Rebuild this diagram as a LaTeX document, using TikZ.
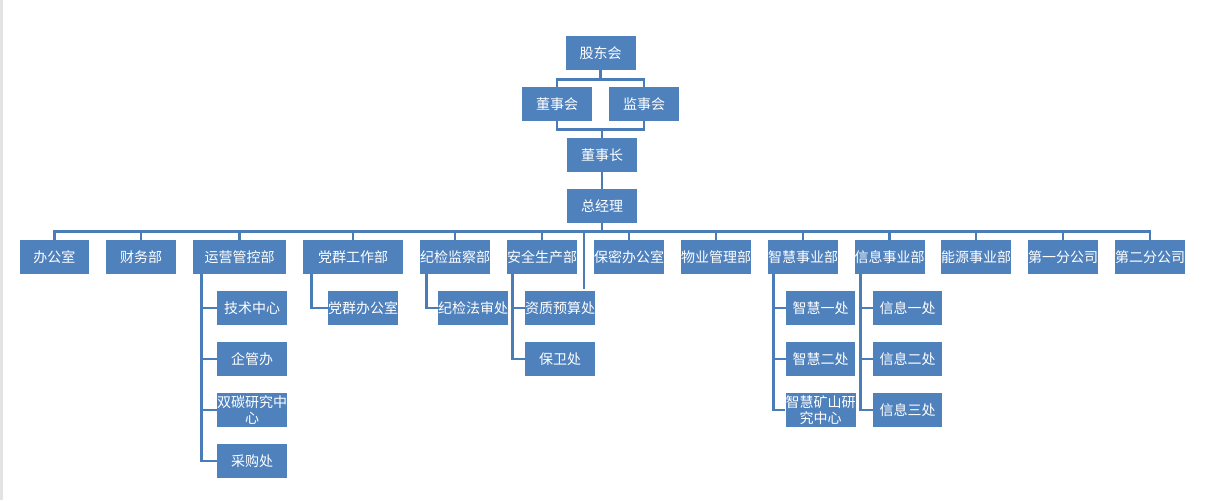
\documentclass[tikz,border=0pt]{standalone}
\usepackage{fontspec}
\newfontfamily\cjk{Noto Sans CJK SC}
\definecolor{boxblue}{HTML}{4F81BD}
\definecolor{lineblue}{HTML}{4A7CB8}
\definecolor{edgegray}{HTML}{E3E3E3}
\begin{document}
\begin{tikzpicture}[x=0.75pt,y=-0.75pt,
  box/.style={fill=boxblue,text=white,minimum width=52.5pt,minimum height=25.5pt,inner sep=0pt,
    font=\cjk\fontsize{10.5}{11.5}\selectfont,align=center},
  conn/.style={draw=lineblue,line width=2pt}]
\useasboundingbox (0,0) rectangle (1206,500);
\fill[white] (0,0) rectangle (1206,500);
\fill[edgegray] (0,0) rectangle (2.5,500);
% top
\node[box] (gd) at (600.5,53) {股东会};
\node[box] (dsh) at (557,104) {董事会};
\node[box] (jsh) at (644,104) {监事会};
\node[box] (dsz) at (602,155) {董事长};
\node[box] (zjl) at (602,206) {总经理};
% level 2
\node[box,minimum width=51.75pt] (bgs) at (54.5,257) {办公室};
\node[box] (cwb) at (141,257) {财务部};
\node[box,minimum width=69.75pt] (yy) at (239.5,257) {运营管控部};
\node[box,minimum width=75pt] (dq) at (353,257) {党群工作部};
\node[box] (jj) at (455,257) {纪检监察部};
\node[box] (aq) at (542,257) {安全生产部};
\node[box] (bm) at (629,257) {保密办公室};
\node[box] (wy) at (716,257) {物业管理部};
\node[box] (zh) at (803,257) {智慧事业部};
\node[box,minimum width=51.75pt] (xx) at (889.5,257) {信息事业部};
\node[box] (ny) at (976,257) {能源事业部};
\node[box] (d1) at (1063,257) {第一分公司};
\node[box] (d2) at (1150,257) {第二分公司};
% level 3
\node[box] (yy1) at (252,308) {技术中心};
\node[box] (yy2) at (252,359) {企管办};
\node[box] (yy3) at (252,410) {双碳研究中\\心};
\node[box] (yy4) at (252,461) {采购处};
\node[box] (dq1) at (363,308) {党群办公室};
\node[box] (jj1) at (473,308) {纪检法审处};
\node[box] (aq1) at (560,308) {资质预算处};
\node[box] (aq2) at (560,359) {保卫处};
\node[box,minimum width=51.75pt] (zh1) at (820.5,308) {智慧一处};
\node[box,minimum width=51.75pt] (zh2) at (820.5,359) {智慧二处};
\node[box,minimum width=51.75pt] (zh3) at (820.5,410) {智慧矿山研\\究中心};
\node[box,minimum width=51.75pt] (xx1) at (907.5,308) {信息一处};
\node[box,minimum width=51.75pt] (xx2) at (907.5,359) {信息二处};
\node[box,minimum width=51.75pt] (xx3) at (907.5,410) {信息三处};
\coordinate (stub) at (584,289);
% connectors top
\draw[conn] (gd.south) -- ++(0,9) -| (dsh.north);
\draw[conn] (gd.south) -- ++(0,9) -| (jsh.north);
\draw[conn] (dsh.south) -- ++(0,8) -| (jsh.south);
\draw[conn] (dsz.north) -- ++(0,-9);
\draw[conn] (dsz.south) -- (zjl.north);
% bus
\foreach \c in {bgs,cwb,yy,dq,jj,aq,bm,wy,zh,xx,ny,d1,d2}
  \draw[conn] (zjl.south) -- ++(0,8) -| (\c.north);
\draw[conn] (zjl.south) -- ++(0,8) -| (stub);
% children
\foreach \c in {yy1,yy2,yy3,yy4}
  \draw[conn] ([xshift=6.75pt]yy.south west) |- (\c.west);
\draw[conn] ([xshift=6.75pt]dq.south west) |- (dq1.west);
\draw[conn] ([xshift=5.25pt]jj.south west) |- (jj1.west);
\foreach \c in {aq1,aq2}
  \draw[conn] ([xshift=4.5pt]aq.south west) |- (\c.west);
\foreach \c in {zh1,zh2,zh3}
  \draw[conn] ([xshift=4.5pt]zh.south west) |- (\c.west);
\foreach \c in {xx1,xx2,xx3}
  \draw[conn] ([xshift=4.5pt]xx.south west) |- (\c.west);
\end{tikzpicture}
\end{document}
